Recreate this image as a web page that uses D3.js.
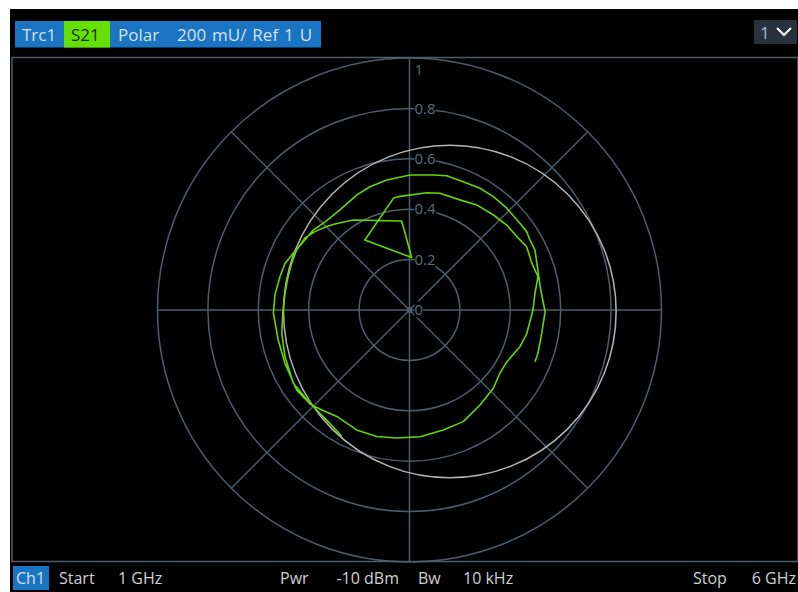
<!DOCTYPE html>
<html lang="en">
<head>
<meta charset="UTF-8">
<title>Trc1 S21 Polar</title>
<script src="https://cdn.jsdelivr.net/npm/d3@7/dist/d3.min.js"></script>
<style>
  body { margin: 0; background: #ffffff; }
  svg text { font-family: "Open Sans", "DejaVu Sans", sans-serif; }
</style>
</head>
<body>
<div id="chart"></div>
<script>
var s21Re = [-0.269, -0.329, -0.395, -0.461, -0.494, -0.507, -0.502, -0.494, -0.482, -0.467,
             -0.448, -0.415, -0.375, -0.329, -0.296, -0.224, -0.031, 0.009, -0.177, -0.064,
             -0.044, 0.068, 0.121, 0.200, 0.267, 0.333, 0.386, 0.432, 0.465, 0.485,
             0.510, 0.498, 0.490, 0.465, 0.438, 0.386, 0.359, 0.333, 0.280, 0.213,
             0.134, 0.042, -0.051, -0.130, -0.210, -0.284, -0.348, -0.395, -0.448, -0.494,
             -0.521, -0.540, -0.534, -0.514, -0.494, -0.461, -0.421, -0.382, -0.335, -0.276,
             -0.210, -0.157, -0.090, 0.002, 0.094, 0.148, 0.213, 0.280, 0.333, 0.386,
             0.438, 0.465, 0.478, 0.498, 0.511, 0.521, 0.538, 0.525, 0.510, 0.498];
var s21Im = [-0.500, -0.437, -0.370, -0.291, -0.185, -0.091, 0.000, 0.067, 0.132, 0.187,
             0.238, 0.286, 0.311, 0.331, 0.341, 0.357, 0.353, 0.208, 0.278, 0.443,
             0.450, 0.465, 0.463, 0.437, 0.417, 0.377, 0.337, 0.285, 0.251, 0.187,
             0.132, 0.067, 0.000, -0.095, -0.146, -0.206, -0.250, -0.310, -0.377, -0.443,
             -0.476, -0.503, -0.508, -0.502, -0.476, -0.425, -0.397, -0.373, -0.317, -0.212,
             -0.119, -0.013, 0.060, 0.132, 0.185, 0.225, 0.271, 0.317, 0.350, 0.397,
             0.456, 0.489, 0.516, 0.536, 0.536, 0.533, 0.509, 0.483, 0.450, 0.404,
             0.344, 0.311, 0.278, 0.238, 0.146, 0.079, -0.007, -0.091, -0.171, -0.205];

// grey reference circle: centre re, centre im, radius
var refCircle = [0.16, -0.006, 0.66];

// polar grid
var ringValues = [0.2, 0.4, 0.6, 0.8, 1];
var tickValues = [0, 0.2, 0.4, 0.6, 0.8, 1];
var tickLabels = ["0", "0.2", "0.4", "0.6", "0.8", "1"];
var spokeAngles = [0, 45, 90, 135, 180, 225, 270, 315];

// info bars
var headerLabels = ["Trc1", "S21", "Polar", "200 mU/ Ref 1 U"];
var footerLabels = ["Ch1", "Start", "1 GHz", "Pwr", "-10 dBm", "Bw", "10 kHz", "Stop", "6 GHz"];

var w = 798, h = 592;
var cx = 409.5, cy = 310, R = 252;
var frameTop = 57.5;

var svg = d3.select("#chart").append("svg")
  .attr("width", w)
  .attr("height", h);

// screen background
svg.append("rect")
  .attr("x", 10).attr("y", 9)
  .attr("width", w - 10).attr("height", h - 9)
  .attr("fill", "#000000");

// scales
var xScale = d3.scaleLinear().domain([-1, 1]).range([cx - R, cx + R]);
var yScale = d3.scaleLinear().domain([-1, 1]).range([cy + R, cy - R]);
var rScale = d3.scaleLinear().domain([0, 1]).range([0, R]);

var gridColor = "#4d5d6c";

// diagram frame
svg.append("rect")
  .attr("x", 12).attr("y", frameTop)
  .attr("width", w - 12).attr("height", 504)
  .attr("fill", "none")
  .attr("stroke", gridColor)
  .attr("stroke-width", 1.5);

var grid = svg.append("g");

grid.selectAll("circle.ring")
  .data(ringValues)
  .enter()
  .append("circle")
  .attr("class", "ring")
  .attr("cx", xScale(0))
  .attr("cy", yScale(0))
  .attr("r", function(d) { return rScale(d); })
  .attr("fill", "none")
  .attr("stroke", gridColor)
  .attr("stroke-width", 1.5);

grid.selectAll("line.spoke")
  .data(spokeAngles)
  .enter()
  .append("line")
  .attr("class", "spoke")
  .attr("x1", xScale(0))
  .attr("y1", yScale(0))
  .attr("x2", function(d) { return xScale(Math.cos(d * Math.PI / 180)); })
  .attr("y2", function(d) { return yScale(Math.sin(d * Math.PI / 180)); })
  .attr("stroke", gridColor)
  .attr("stroke-width", 1.5);

grid.append("circle")
  .attr("cx", xScale(0)).attr("cy", yScale(0))
  .attr("r", 3).attr("fill", gridColor);

// reference circle
svg.append("circle")
  .attr("cx", xScale(refCircle[0]))
  .attr("cy", yScale(refCircle[1]))
  .attr("r", rScale(refCircle[2]))
  .attr("fill", "none")
  .attr("stroke", "#b4b4b4")
  .attr("stroke-width", 1.5);

// trace
var tracePts = s21Re.map(function(d, i) { return [d, s21Im[i]]; });
var line = d3.line()
  .x(function(d) { return xScale(d[0]); })
  .y(function(d) { return yScale(d[1]); });

svg.append("path")
  .datum(tracePts)
  .attr("d", line)
  .attr("fill", "none")
  .attr("stroke", "#66d600")
  .attr("stroke-width", 1.6)
  .attr("stroke-linejoin", "round");

// magnitude labels on the vertical axis (kept inside the frame)
var labels = svg.selectAll("g.tick")
  .data(tickValues)
  .enter()
  .append("g")
  .attr("class", "tick")
  .attr("transform", function(d) {
    return "translate(" + (xScale(0) + 5) + "," + Math.max(yScale(d), frameTop + 12) + ")";
  });

labels.append("text")
  .attr("dy", "0.35em")
  .attr("font-size", "15px")
  .attr("fill", "#5c6d7d")
  .text(function(d, i) { return tickLabels[i]; })
  .each(function() {
    var bb = this.getBBox();
    d3.select(this.parentNode).insert("rect", "text")
      .attr("x", bb.x).attr("y", bb.y + 2)
      .attr("width", bb.width).attr("height", bb.height - 4)
      .attr("fill", "#000000");
  });

// header bar
var head = svg.append("g");
head.append("rect")
  .attr("x", 15).attr("y", 21).attr("width", 306).attr("height", 26.5)
  .attr("fill", "#1a74c2");
head.append("rect")
  .attr("x", 64).attr("y", 21).attr("width", 46).attr("height", 26.5)
  .attr("fill", "#66e000");
var headX = [22, 71, 118, 177];
head.selectAll("text")
  .data(headerLabels)
  .enter()
  .append("text")
  .attr("x", function(d, i) { return headX[i]; })
  .attr("y", 41)
  .attr("font-size", "17px")
  .attr("word-spacing", function(d, i) { return i == 3 ? "1.5px" : "0px"; })
  .attr("fill", function(d, i) { return i == 1 ? "#1b2a12" : "#d4e2ee"; })
  .text(function(d) { return d; });

// trace selector in the top right corner
svg.append("rect")
  .attr("x", 754).attr("y", 20).attr("width", 43).attr("height", 24)
  .attr("fill", "#27323c");
svg.append("text")
  .attr("x", 760).attr("y", 39)
  .attr("font-size", "17px")
  .attr("fill", "#8cc0ee")
  .text("1");
svg.append("path")
  .attr("d", "M777,28 L784,35 L791,28")
  .attr("fill", "none")
  .attr("stroke", "#ffffff")
  .attr("stroke-width", 2);

// footer bar
svg.append("rect")
  .attr("x", 13).attr("y", 566).attr("width", 36).attr("height", 24)
  .attr("fill", "#1a74c2");
var footX = [16, 59, 118, 280, 399, 418, 463, 693, 796];
var footEnd = ["-10 dBm", "6 GHz"];
svg.selectAll("text.foot")
  .data(footerLabels)
  .enter()
  .append("text")
  .attr("class", "foot")
  .attr("x", function(d, i) { return footX[i]; })
  .attr("y", 584)
  .attr("font-size", "16px")
  .attr("text-anchor", function(d) { return footEnd.indexOf(d) >= 0 ? "end" : "start"; })
  .attr("fill", function(d, i) { return i == 0 ? "#d4e2ee" : "#d0d0d0"; })
  .text(function(d) { return d; });
</script>
</body>
</html>
